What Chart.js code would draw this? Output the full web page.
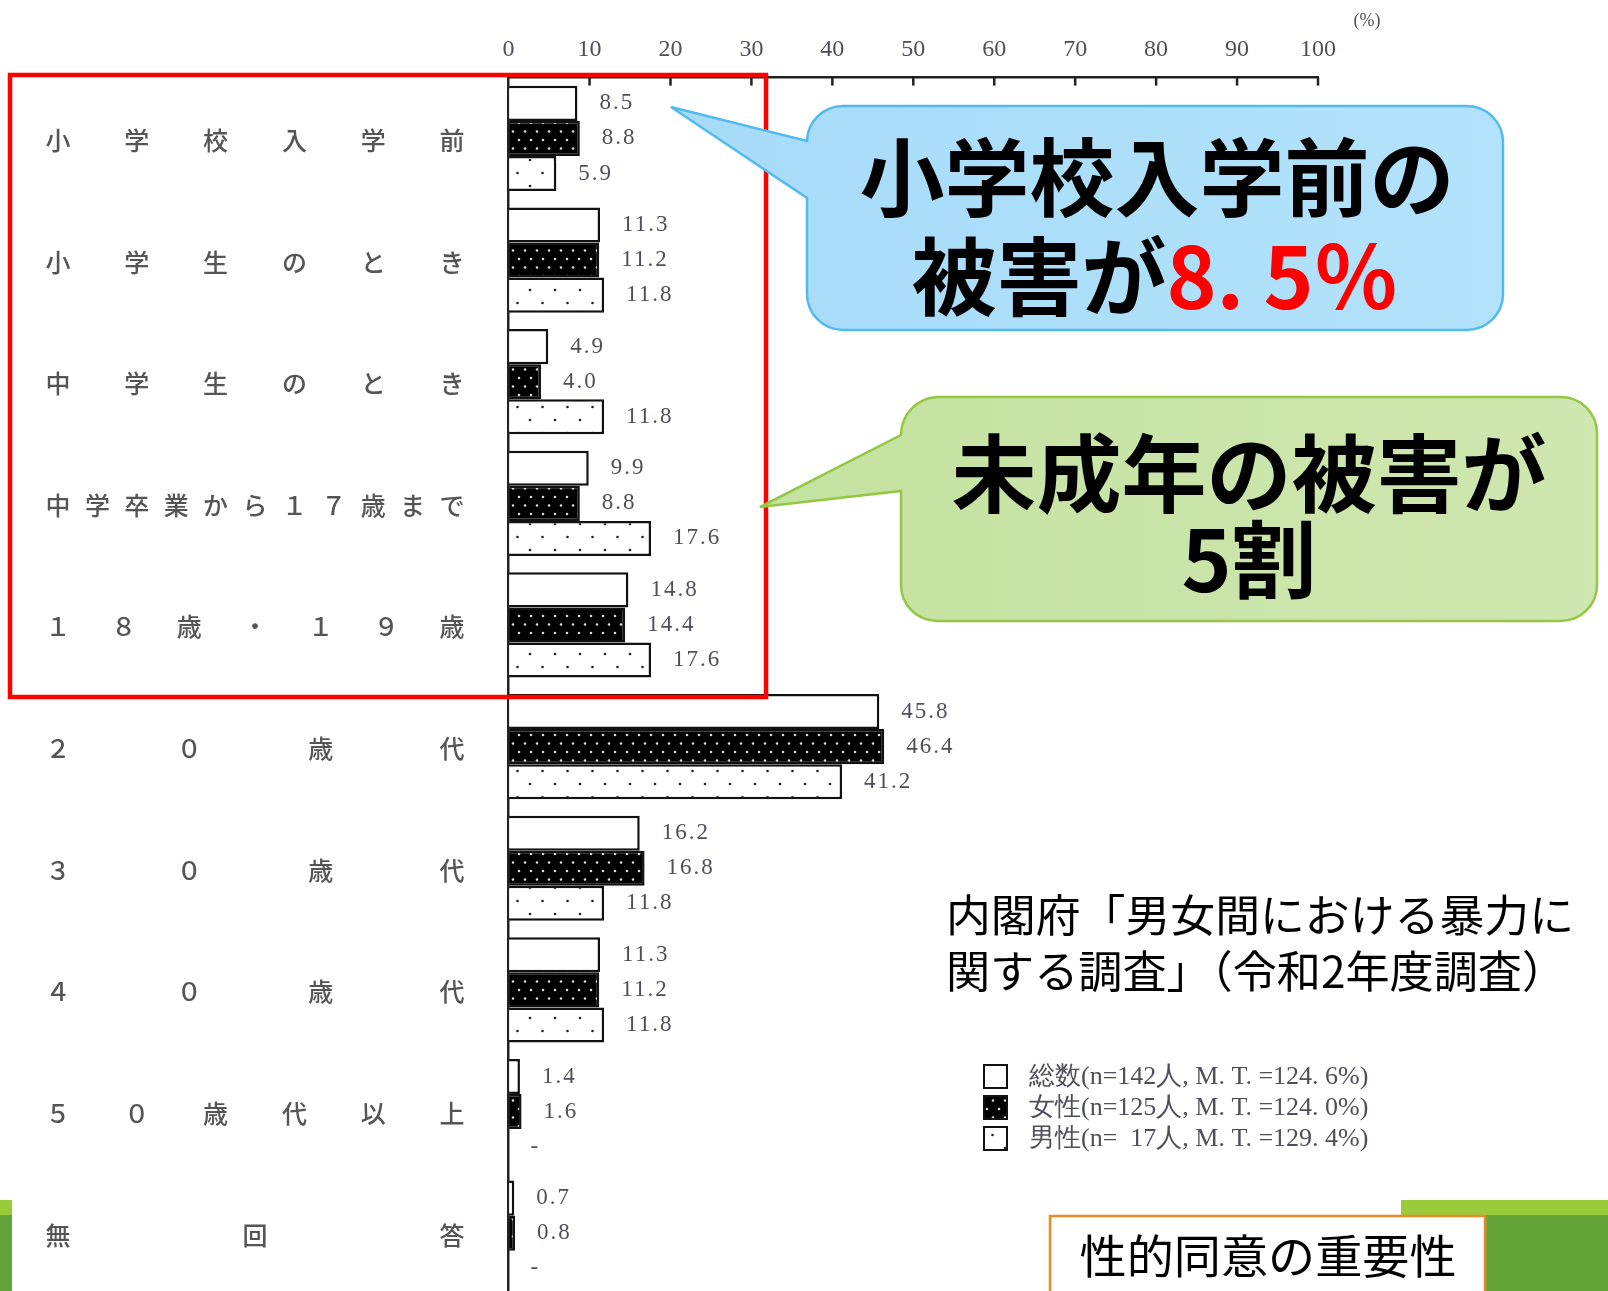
<!DOCTYPE html>
<html lang="ja">
<head>
<meta charset="utf-8">
<title>被害を受けた時期</title>
<script src="https://cdn.jsdelivr.net/npm/chart.js@4.4.1/dist/chart.umd.min.js"></script>
<style>
html, body { margin: 0; padding: 0; background: #fff; overflow: hidden; }
#wrap { position: relative; width: 1608px; height: 1294px; }
#myChart { position: absolute; left: 0; top: 0; }
#overlay { position: absolute; left: 0; top: 0; pointer-events: none; }
</style>
</head>
<body>
<div id="wrap">
<canvas id="myChart" width="1608" height="1294"></canvas>
<svg id="overlay" width="1608" height="1294" xmlns="http://www.w3.org/2000/svg">
  <defs>
    <linearGradient id="blueFill" x1="0" y1="0" x2="1" y2="0">
      <stop offset="0" stop-color="#a6dbf8"/>
      <stop offset="1" stop-color="#b3e2fb"/>
    </linearGradient>
    <linearGradient id="greenFill" x1="0" y1="0" x2="1" y2="0">
      <stop offset="0" stop-color="#c4e2a0"/>
      <stop offset="1" stop-color="#cfe7b0"/>
    </linearGradient>
  </defs>

  <!-- red frame round the minors -->
  <rect x="10" y="75" width="756" height="622" fill="none" stroke="#ff0000" stroke-width="4.5"/>

  <!-- blue callout -->
  <path d="M 843,106 H 1467 A 36,36 0 0 1 1503,142 V 294 A 36,36 0 0 1 1467,330 H 843 A 36,36 0 0 1 807,294 V 198 L 671,107 L 807,141 A 36,36 0 0 1 843,106 Z"
        fill="url(#blueFill)" stroke="#52bbee" stroke-width="2.5"/>
  <text x="1157" y="172" text-anchor="middle" dominant-baseline="central"
        font-family="Noto Sans CJK JP" font-weight="700" font-size="85" fill="#000">小学校入学前の</text>
  <text x="1155" y="271" text-anchor="middle" dominant-baseline="central"
        font-family="Noto Sans CJK JP" font-weight="700" font-size="85" fill="#000">被害が<tspan fill="#ff0000">8. 5％</tspan></text>

  <!-- green callout -->
  <path d="M 937,397 H 1561 A 36,36 0 0 1 1597,433 V 585 A 36,36 0 0 1 1561,621 H 937 A 36,36 0 0 1 901,585 V 491 L 760,507 L 901,435 A 38,38 0 0 1 937,397 Z"
        fill="url(#greenFill)" stroke="#93c744" stroke-width="2.5"/>
  <text x="1249" y="468" text-anchor="middle" dominant-baseline="central"
        font-family="Noto Sans CJK JP" font-weight="700" font-size="85" fill="#000">未成年の被害が</text>
  <text x="1249" y="554" text-anchor="middle" dominant-baseline="central"
        font-family="Noto Sans CJK JP" font-weight="700" font-size="85" fill="#000">5割</text>

  <!-- source -->
  <text x="946" y="913" dominant-baseline="central" font-family="Noto Sans CJK JP" font-size="44" fill="#000"
        textLength="628" lengthAdjust="spacingAndGlyphs">内閣府「男女間における暴力に</text>
  <text x="946" y="969" dominant-baseline="central" font-family="Noto Sans CJK JP" font-size="44" fill="#000"
        textLength="620" lengthAdjust="spacingAndGlyphs">関する調査」（令和2年度調査）</text>

  <!-- slide footer -->
  <rect x="0" y="1200" width="12" height="15" fill="#9acb3b"/>
  <rect x="0" y="1215" width="12" height="80" fill="#64a337"/>
  <rect x="1401" y="1200" width="207" height="15" fill="#9acb3b"/>
  <rect x="1401" y="1215" width="207" height="80" fill="#64a337"/>
  <rect x="1050" y="1216" width="435" height="90" fill="#fff" stroke="#e98a2a" stroke-width="2.5"/>
  <text x="1268" y="1253" text-anchor="middle" dominant-baseline="central" font-family="Noto Sans CJK JP"
        font-size="46" fill="#000" textLength="377" lengthAdjust="spacingAndGlyphs">性的同意の重要性</text>
</svg>
</div>
<script>
// data block
const categories = ['小学校入学前', '小学生のとき', '中学生のとき', '中学卒業から１７歳まで', '１８歳・１９歳',
    '２０歳代', '３０歳代', '４０歳代', '５０歳代以上', '無回答'];
const totalValues = [8.5, 11.3, 4.9, 9.9, 14.8, 45.8, 16.2, 11.3, 1.4, 0.7];
const femaleValues = [8.8, 11.2, 4.0, 8.8, 14.4, 46.4, 16.8, 11.2, 1.6, 0.8];
const maleValues = [5.9, 11.8, 11.8, 17.6, 17.6, 41.2, 11.8, 11.8, 0, 0];
const seriesLabels = ['総数(n=142人, M. T. =124. 6%)', '女性(n=125人, M. T. =124. 0%)', '男性(n=  17人, M. T. =129. 4%)'];
const xTicks = [0, 10, 20, 30, 40, 50, 60, 70, 80, 90, 100];

const serif = "'Liberation Serif', 'DejaVu Serif', serif";
const grayText = '#4f4f5c';

// dot patterns for the bars
function makePattern(w, h, bg, dot, pts) {
    const c = document.createElement('canvas');
    c.width = w; c.height = h;
    const g = c.getContext('2d');
    g.fillStyle = bg;
    g.fillRect(0, 0, w, h);
    g.fillStyle = dot;
    pts.forEach(p => { g.beginPath(); g.arc(p[0], p[1], 1.3, 0, Math.PI * 2); g.fill(); });
    return g.createPattern(c, 'repeat');
}
const femaleFill = makePattern(12, 17, '#000', '#d8d8d8', [[3, 4], [9, 12.5]]);
const maleFill = makePattern(25, 26, '#fff', '#222', [[5, 4], [17.5, 17]]);
const fills = ['#fff', femaleFill, maleFill];

const data = {
    labels: categories,
    datasets: [totalValues, femaleValues, maleValues].map((vals, i) => ({
        label: seriesLabels[i],
        data: vals,
        backgroundColor: fills[i],
        borderColor: '#111',
        borderWidth: ctx => ctx.raw === 0 ? 0 : 2.5,
        categoryPercentage: 0.865,
        barPercentage: 1.0
    }))
};

// drawing helpers: value labels, justified category labels, ticks, legend
const extras = {
    id: 'extras',
    afterDraw(chart) {
        const ctx = chart.ctx;
        const xs = chart.scales.x;
        const ys = chart.scales.y;
        const area = chart.chartArea;
        ctx.save();

        // tick marks pointing down from top axis
        ctx.strokeStyle = '#222';
        ctx.lineWidth = 2.5;
        xTicks.slice(1).forEach(v => {
            const px = xs.getPixelForValue(v);
            ctx.beginPath();
            ctx.moveTo(px, area.top);
            ctx.lineTo(px, area.top + 8);
            ctx.stroke();
        });

        // unit
        ctx.fillStyle = grayText;
        ctx.font = '18px ' + serif;
        ctx.textAlign = 'center';
        ctx.textBaseline = 'middle';
        ctx.fillText('(%)', 1367, 21);

        // value labels
        ctx.font = '23px ' + serif;
        ctx.textAlign = 'left';
        ctx.letterSpacing = '2px';
        chart.data.datasets.forEach((ds, di) => {
            chart.getDatasetMeta(di).data.forEach((el, i) => {
                const v = ds.data[i];
                ctx.fillText(v === 0 ? '-' : v.toFixed(1), el.x + 22, el.y);
            });
        });
        ctx.letterSpacing = '0px';

        // category labels spread across the label column
        ctx.font = '500 25px "Noto Sans CJK JP"';
        ctx.fillStyle = '#555';
        ctx.textAlign = 'center';
        categories.forEach((lab, i) => {
            const chars = Array.from(lab);
            const y = ys.getPixelForValue(i) + 2;
            const step = (452 - 58) / (chars.length - 1);
            chars.forEach((ch, k) => ctx.fillText(ch, 58 + k * step, y));
        });

        // legend
        ctx.font = '26px ' + serif;
        ctx.textAlign = 'left';
        chart.data.datasets.forEach((ds, di) => {
            const top = 1065 + di * 31;
            ctx.fillStyle = ds.backgroundColor;
            ctx.fillRect(984, top, 23, 23);
            ctx.strokeStyle = '#111';
            ctx.lineWidth = 2;
            ctx.strokeRect(984, top, 23, 23);
            ctx.fillStyle = grayText;
            ctx.fillText(ds.label, 1029, top + 12, 343);
        });
        ctx.restore();
    }
};

// config block
const config = {
    type: 'bar',
    data: data,
    options: {
        indexAxis: 'y',
        responsive: false,
        animation: false,
        devicePixelRatio: 1,
        layout: { padding: { left: 0, right: 290, top: 0, bottom: 0 } },
        scales: {
            x: {
                position: 'top',
                min: 0,
                max: 100,
                afterFit: s => { s.height = 77.6; },
                afterBuildTicks: s => { s.ticks = xTicks.map(v => ({ value: v })); },
                ticks: { padding: 13, color: grayText, maxRotation: 0, autoSkip: false, font: { family: serif, size: 24 } },
                grid: { drawOnChartArea: false, drawTicks: false },
                border: { color: '#222', width: 2.5 }
            },
            y: {
                afterFit: s => { s.width = 508.6; },
                ticks: { display: false },
                grid: { display: false, drawTicks: false },
                border: { color: '#222', width: 2.5 }
            }
        },
        plugins: {
            legend: { display: false },
            tooltip: { enabled: false }
        }
    },
    plugins: [extras]
};

// init render block
const myChart = new Chart(
    document.getElementById('myChart'),
    config
);
</script>
</body>
</html>
